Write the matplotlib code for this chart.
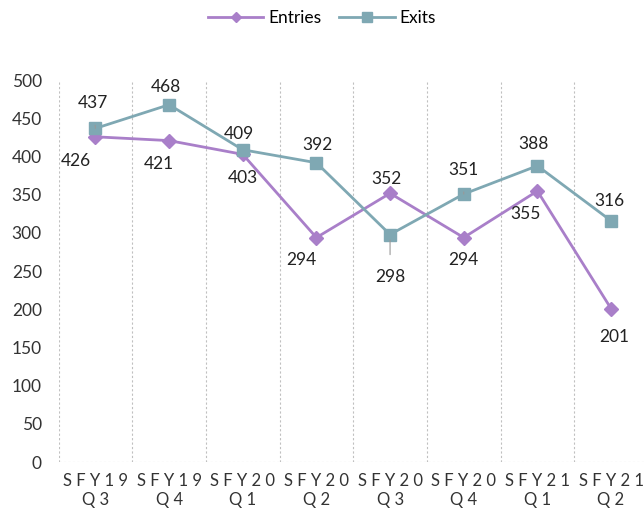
import numpy as np
import matplotlib.pyplot as plt

plt.rcParams['font.family'] = ['Lato', 'DejaVu Sans']

quarters = ['S F Y 1 9\nQ 3', 'S F Y 1 9\nQ 4', 'S F Y 2 0\nQ 1', 'S F Y 2 0\nQ 2',
            'S F Y 2 0\nQ 3', 'S F Y 2 0\nQ 4', 'S F Y 2 1\nQ 1', 'S F Y 2 1\nQ 2']
entries = [426, 421, 403, 294, 352, 294, 355, 201]
exits = [437, 468, 409, 392, 298, 351, 388, 316]

# label offsets in pixels (dx, dy)
entries_off = [(-20, -24), (-10, -23), (0, -24), (-15, -22), (-4, 14), (0, -22), (-12, -23), (3, -28)]
exits_off = [(-2, 25), (-3, 18), (-4, 16), (1, 18), (0, -42), (0, 24), (-4, 22), (-2, 20)]

purple = '#A97FC9'
teal = '#7FA8B3'

fig = plt.figure(figsize=(6.44, 5.18), dpi=100)
ax = fig.add_axes([0.091, 0.108, 0.915, 0.737])

x = np.arange(len(quarters))
ax.plot(x, entries, color=purple, lw=2, marker='D', ms=7, label='Entries', zorder=3)
ax.plot(x, exits, color=teal, lw=2, marker='s', ms=9, label='Exits', zorder=3)

for i, v in enumerate(entries):
    ax.annotate(str(v), (x[i], v), xytext=entries_off[i], textcoords='offset pixels',
                ha='center', va='center', fontsize=12.5, color='#222222')
for i, v in enumerate(exits):
    dx, dy = exits_off[i]
    ap = None
    if abs(dy) > 22:
        ap = dict(arrowstyle='-', color='#999999', lw=0.8, shrinkA=8, shrinkB=4)
    ax.annotate(str(v), (x[i], v), xytext=(dx, dy), textcoords='offset pixels',
                ha='center', va='center', fontsize=12.5, color='#222222', arrowprops=ap)

for b in np.arange(-0.5, len(quarters), 1.0):
    ax.axvline(b, color='#c0c0c0', lw=0.8, ls=(0, (2, 2)), zorder=1)
ax.axhline(0, color='#c0c0c0', lw=0.8, ls=(0, (2, 2)), zorder=1)

ax.set_xlim(-0.5, len(quarters) - 0.5)
ax.set_ylim(0, 500)
ax.set_yticks(np.arange(0, 501, 50))
ax.set_xticks(x)
ax.set_xticklabels(quarters, fontsize=12, color='#333333', linespacing=1.2)
ax.tick_params(axis='y', labelsize=12.5, colors='#333333', length=0, pad=12)
ax.tick_params(axis='x', length=0, pad=8)
for s in ax.spines.values():
    s.set_visible(False)

fig.legend(loc='upper center', bbox_to_anchor=(0.5, 1.01), ncol=2, frameon=False,
           fontsize=12.5, handlelength=3.2, columnspacing=1.0, handletextpad=0.3,
           markerscale=0.8)

fig.savefig('out.png', dpi=100)
